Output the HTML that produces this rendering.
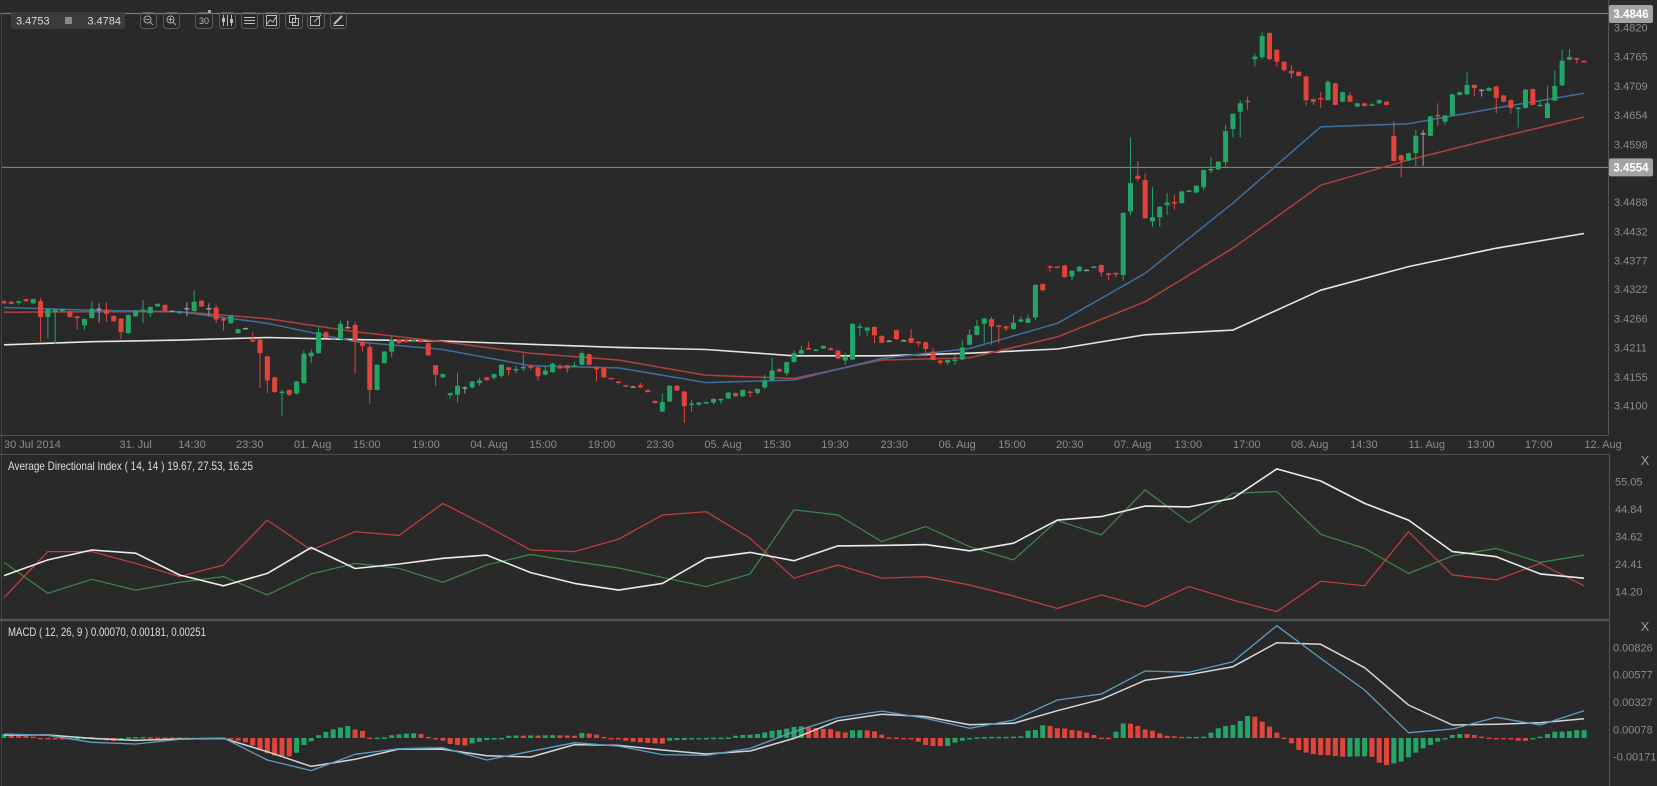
<!DOCTYPE html>
<html><head><meta charset="utf-8">
<style>
html,body{margin:0;padding:0;background:#292929;}
svg{display:block;font-family:"Liberation Sans Narrow","Liberation Sans",sans-serif;}
</style></head>
<body>
<svg id="chart" width="1657" height="786" viewBox="0 0 1657 786" xmlns="http://www.w3.org/2000/svg">
<rect x="0" y="0" width="1657" height="786" fill="#292929"/>
<defs>
<clipPath id="mainClip"><rect x="2" y="14" width="1606" height="421"/></clipPath>
<clipPath id="adxClip"><rect x="2" y="455" width="1606" height="164"/></clipPath>
<clipPath id="macdClip"><rect x="2" y="622" width="1606" height="164"/></clipPath>
</defs>
<g id="frame">
<line x1="0" y1="13.5" x2="1608" y2="13.5" stroke="#7a7a7a" stroke-width="1.2"/>
<line x1="1.5" y1="13" x2="1.5" y2="786" stroke="#444"/>
<line x1="1608.5" y1="0" x2="1608.5" y2="435" stroke="#555"/>
<line x1="0" y1="435.5" x2="1608" y2="435.5" stroke="#505050"/>
<line x1="0" y1="454.5" x2="1609" y2="454.5" stroke="#505050"/>
<line x1="1609.5" y1="454" x2="1609.5" y2="786" stroke="#555"/>
<line x1="0" y1="620" x2="1609" y2="620" stroke="#555" stroke-width="2.5"/>
</g>
<g id="main" clip-path="url(#mainClip)"></g>
<g id="mainAxis"></g>
<g id="xAxis"></g>
<g id="adx" clip-path="url(#adxClip)"></g>
<g id="adxAxis"></g>
<g id="macd" clip-path="url(#macdClip)"></g>
<g id="macdAxis"></g>
<g id="toolbar">
<rect x="11" y="12" width="114" height="17" rx="2" fill="#3b3b3b"/>
<text x="16" y="24.5" fill="#dcdcdc" font-size="11">3.4753</text>
<rect x="65" y="17" width="7" height="7" fill="#8a8a8a"/>
<text x="121" y="24.5" fill="#dcdcdc" font-size="11" text-anchor="end">3.4784</text>
<g><rect x="140.5" y="12.5" width="16" height="16" rx="3" fill="none" stroke="#5a5a5a"/><circle cx="147.5" cy="19.5" r="3.5" fill="none" stroke="#aaa"/><line x1="145.5" y1="19.5" x2="149.5" y2="19.5" stroke="#aaa"/><line x1="150" y1="22" x2="153" y2="25" stroke="#aaa"/></g>
<g><rect x="163.5" y="12.5" width="16" height="16" rx="3" fill="none" stroke="#5a5a5a"/><circle cx="170.5" cy="19.5" r="3.5" fill="none" stroke="#aaa"/><line x1="168.5" y1="19.5" x2="172.5" y2="19.5" stroke="#aaa"/><line x1="170.5" y1="17.5" x2="170.5" y2="21.5" stroke="#aaa"/><line x1="173" y1="22" x2="176" y2="25" stroke="#aaa"/></g>
<g><rect x="195.5" y="12.5" width="17" height="16" rx="3" fill="none" stroke="#5a5a5a"/><text x="204" y="24" fill="#bbb" font-size="9" text-anchor="middle">30</text><rect x="208" y="10" width="3" height="3" fill="#aaa"/></g>
<g><rect x="219.5" y="12.5" width="16" height="16" rx="3" fill="none" stroke="#5a5a5a"/><line x1="223.5" y1="15" x2="223.5" y2="26" stroke="#bbb"/><line x1="227.5" y1="15" x2="227.5" y2="26" stroke="#bbb"/><line x1="231.5" y1="15" x2="231.5" y2="26" stroke="#bbb"/><rect x="222" y="18" width="3" height="4" fill="#bbb"/><rect x="230" y="19" width="3" height="4" fill="#bbb"/></g>
<g><rect x="241.5" y="12.5" width="16" height="16" rx="3" fill="none" stroke="#5a5a5a"/><line x1="244" y1="17.5" x2="255" y2="17.5" stroke="#bbb"/><line x1="244" y1="20.5" x2="255" y2="20.5" stroke="#bbb"/><line x1="244" y1="23.5" x2="255" y2="23.5" stroke="#bbb"/></g>
<g><rect x="263.5" y="12.5" width="16" height="16" rx="3" fill="none" stroke="#5a5a5a"/><rect x="266.5" y="15.5" width="10" height="10" fill="none" stroke="#bbb"/><polyline points="267,24 270,20 273,22 276,17" fill="none" stroke="#bbb"/></g>
<g><rect x="285.5" y="12.5" width="17" height="16" rx="3" fill="none" stroke="#5a5a5a"/><rect x="289.5" y="15.5" width="6" height="7" fill="none" stroke="#bbb"/><rect x="292.5" y="18.5" width="6" height="7" fill="none" stroke="#bbb"/></g>
<g><rect x="307.5" y="12.5" width="17" height="16" rx="3" fill="none" stroke="#5a5a5a"/><rect x="310.5" y="16.5" width="9" height="9" fill="none" stroke="#bbb"/><line x1="314" y1="22" x2="321" y2="15" stroke="#bbb"/></g>
<g><rect x="330.5" y="12.5" width="16" height="16" rx="3" fill="none" stroke="#5a5a5a"/><line x1="333" y1="25.5" x2="344" y2="25.5" stroke="#bbb"/><line x1="334" y1="24" x2="342" y2="16" stroke="#bbb" stroke-width="2"/></g>
</g>
<text x="8" y="470" fill="#dedede" font-size="12" textLength="245" lengthAdjust="spacingAndGlyphs">Average Directional Index ( 14, 14 ) 19.67, 27.53, 16.25</text>
<text x="8" y="636" fill="#dedede" font-size="12" textLength="198" lengthAdjust="spacingAndGlyphs">MACD ( 12, 26, 9 ) 0.00070, 0.00181, 0.00251</text>
<text x="1645" y="465" fill="#999" font-size="13" text-anchor="middle">X</text>
<text x="1645" y="631" fill="#999" font-size="13" text-anchor="middle">X</text>
</svg>
<script>
const opens=[3.4299,3.4298,3.4298,3.4303,3.4295,3.4299,3.4269,3.4278,3.4280,3.4280,
3.4270,3.4253,3.4267,3.4285,3.4283,3.4271,3.4266,3.4238,3.4270,3.4282,
3.4276,3.4289,3.4292,3.4281,3.4276,3.4286,3.4280,3.4300,3.4286,3.4287,
3.4266,3.4257,3.4238,3.4248,3.4226,3.4226,3.4194,3.4154,3.4124,3.4130,
3.4123,3.4143,3.4194,3.4200,3.4240,3.4228,3.4228,3.4250,3.4254,3.4222,
3.4212,3.4130,3.4181,3.4203,3.4226,3.4226,3.4222,3.4226,3.4219,3.4177,
3.4154,3.4120,3.4121,3.4135,3.4135,3.4143,3.4154,3.4153,3.4157,3.4173,
3.4167,3.4171,3.4175,3.4173,3.4159,3.4164,3.4175,3.4177,3.4175,3.4178,
3.4198,3.4174,3.4172,3.4153,3.4146,3.4139,3.4137,3.4139,3.4130,3.4109,
3.4089,3.4108,3.4138,3.4127,3.4102,3.4102,3.4106,3.4106,3.4110,3.4114,
3.4124,3.4118,3.4127,3.4124,3.4135,3.4148,3.4170,3.4162,3.4183,3.4199,
3.4210,3.4205,3.4209,3.4209,3.4205,3.4186,3.4188,3.4250,3.4243,3.4250,
3.4233,3.4224,3.4244,3.4225,3.4229,3.4222,3.4221,3.4203,3.4186,3.4182,
3.4186,3.4188,3.4216,3.4235,3.4256,3.4265,3.4253,3.4251,3.4246,3.4260,
3.4258,3.4268,3.4332,3.4366,3.4365,3.4367,3.4346,3.4356,3.4359,3.4364,
3.4368,3.4352,3.4353,3.4349,3.4470,3.4538,3.4530,3.4451,3.4459,3.4482,
3.4488,3.4486,3.4508,3.4506,3.4516,3.4549,3.4550,3.4564,3.4627,3.4660,
3.4681,3.4760,3.4764,3.4810,3.4778,3.4755,3.4738,3.4736,3.4727,3.4684,
3.4686,3.4682,3.4714,3.4679,3.4691,3.4670,3.4676,3.4673,3.4676,3.4679,
3.4614,3.4577,3.4567,3.4581,3.4619,3.4614,3.4654,3.4641,3.4653,3.4692,
3.4693,3.4711,3.4702,3.4700,3.4708,3.4691,3.4682,3.4665,3.4667,3.4703,
3.4671,3.4648,3.4681,3.4710,3.4759,3.4762,3.4757];
const closes=[3.4295,3.4294,3.4299,3.4299,3.4303,3.4269,3.4284,3.4283,3.4284,3.4269,
3.4267,3.4265,3.4285,3.4285,3.4275,3.4261,3.4240,3.4273,3.4281,3.4283,
3.4288,3.4294,3.4281,3.4281,3.4280,3.4286,3.4298,3.4289,3.4286,3.4264,
3.4262,3.4272,3.4246,3.4248,3.4222,3.4200,3.4148,3.4126,3.4127,3.4121,
3.4146,3.4199,3.4201,3.4240,3.4229,3.4228,3.4256,3.4250,3.4222,3.4214,
3.4130,3.4178,3.4203,3.4226,3.4219,3.4221,3.4226,3.4221,3.4196,3.4159,
3.4160,3.4124,3.4138,3.4135,3.4146,3.4148,3.4149,3.4160,3.4178,3.4168,
3.4170,3.4174,3.4173,3.4156,3.4167,3.4180,3.4171,3.4171,3.4177,3.4200,
3.4178,3.4169,3.4154,3.4152,3.4143,3.4137,3.4137,3.4135,3.4126,3.4105,
3.4107,3.4138,3.4129,3.4099,3.4104,3.4106,3.4107,3.4113,3.4113,3.4125,
3.4118,3.4130,3.4124,3.4132,3.4148,3.4167,3.4165,3.4183,3.4200,3.4206,
3.4207,3.4207,3.4214,3.4206,3.4190,3.4194,3.4256,3.4251,3.4249,3.4234,
3.4220,3.4224,3.4227,3.4225,3.4220,3.4219,3.4208,3.4187,3.4182,3.4187,
3.4188,3.4211,3.4235,3.4252,3.4266,3.4251,3.4250,3.4247,3.4258,3.4264,
3.4266,3.4330,3.4320,3.4363,3.4364,3.4345,3.4357,3.4365,3.4359,3.4365,
3.4354,3.4350,3.4350,3.4467,3.4524,3.4532,3.4457,3.4459,3.4479,3.4487,
3.4485,3.4508,3.4510,3.4519,3.4549,3.4551,3.4565,3.4623,3.4656,3.4676,
3.4679,3.4765,3.4804,3.4760,3.4755,3.4739,3.4733,3.4728,3.4682,3.4679,
3.4684,3.4717,3.4673,3.4697,3.4679,3.4676,3.4671,3.4674,3.4682,3.4673,
3.4566,3.4567,3.4581,3.4614,3.4619,3.4651,3.4652,3.4653,3.4693,3.4697,
3.4711,3.4705,3.4702,3.4705,3.4686,3.4679,3.4667,3.4668,3.4702,3.4673,
3.4673,3.4676,3.4709,3.4757,3.4764,3.4760,3.4754];
const highs=[3.4302,3.4299,3.4300,3.4304,3.4304,3.4305,3.4285,3.4284,3.4285,3.4281,
3.4271,3.4266,3.4299,3.4295,3.4297,3.4272,3.4267,3.4274,3.4282,3.4301,
3.4289,3.4295,3.4293,3.4282,3.4281,3.4297,3.4320,3.4301,3.4295,3.4292,
3.4267,3.4273,3.4247,3.4249,3.4240,3.4227,3.4195,3.4155,3.4130,3.4131,
3.4147,3.4205,3.4207,3.4252,3.4241,3.4229,3.4262,3.4262,3.4260,3.4223,
3.4219,3.4179,3.4204,3.4232,3.4227,3.4227,3.4227,3.4227,3.4220,3.4178,
3.4161,3.4125,3.4163,3.4137,3.4147,3.4153,3.4155,3.4161,3.4179,3.4174,
3.4176,3.4199,3.4180,3.4174,3.4176,3.4182,3.4180,3.4178,3.4184,3.4204,
3.4199,3.4175,3.4173,3.4153,3.4147,3.4140,3.4138,3.4143,3.4131,3.4110,
3.4123,3.4139,3.4139,3.4128,3.4111,3.4107,3.4108,3.4114,3.4114,3.4126,
3.4125,3.4131,3.4128,3.4133,3.4159,3.4191,3.4171,3.4184,3.4205,3.4214,
3.4222,3.4208,3.4215,3.4212,3.4206,3.4201,3.4257,3.4257,3.4250,3.4251,
3.4234,3.4225,3.4245,3.4226,3.4246,3.4223,3.4222,3.4210,3.4187,3.4188,
3.4197,3.4224,3.4245,3.4263,3.4267,3.4269,3.4254,3.4252,3.4273,3.4270,
3.4273,3.4331,3.4333,3.4367,3.4366,3.4368,3.4358,3.4366,3.4360,3.4366,
3.4369,3.4353,3.4354,3.4468,3.4611,3.4565,3.4543,3.4516,3.4480,3.4505,
3.4501,3.4509,3.4511,3.4520,3.4550,3.4574,3.4566,3.4635,3.4657,3.4682,
3.4689,3.4771,3.4812,3.4811,3.4779,3.4756,3.4749,3.4737,3.4728,3.4685,
3.4697,3.4720,3.4715,3.4698,3.4697,3.4677,3.4677,3.4676,3.4683,3.4680,
3.4641,3.4578,3.4582,3.4625,3.4625,3.4652,3.4676,3.4654,3.4694,3.4698,
3.4736,3.4712,3.4703,3.4707,3.4709,3.4692,3.4683,3.4669,3.4703,3.4704,
3.4682,3.4709,3.4738,3.4778,3.4779,3.4763,3.4758];
const lows=[3.4294,3.4293,3.4292,3.4298,3.4294,3.4222,3.4229,3.4218,3.4279,3.4268,
3.4245,3.4245,3.4266,3.4259,3.4259,3.4260,3.4226,3.4237,3.4269,3.4257,
3.4269,3.4288,3.4280,3.4280,3.4275,3.4270,3.4279,3.4288,3.4270,3.4257,
3.4243,3.4256,3.4237,3.4247,3.4221,3.4134,3.4124,3.4125,3.4080,3.4118,
3.4122,3.4142,3.4181,3.4199,3.4228,3.4227,3.4227,3.4248,3.4162,3.4203,
3.4104,3.4129,3.4180,3.4193,3.4218,3.4220,3.4221,3.4220,3.4195,3.4138,
3.4153,3.4114,3.4106,3.4123,3.4132,3.4138,3.4146,3.4149,3.4153,3.4158,
3.4162,3.4166,3.4168,3.4148,3.4158,3.4163,3.4170,3.4163,3.4174,3.4177,
3.4177,3.4147,3.4153,3.4152,3.4142,3.4136,3.4136,3.4134,3.4125,3.4104,
3.4088,3.4107,3.4128,3.4067,3.4088,3.4100,3.4105,3.4102,3.4104,3.4113,
3.4117,3.4117,3.4116,3.4121,3.4132,3.4147,3.4164,3.4157,3.4182,3.4198,
3.4206,3.4204,3.4208,3.4205,3.4189,3.4178,3.4187,3.4232,3.4232,3.4219,
3.4219,3.4223,3.4225,3.4224,3.4219,3.4213,3.4194,3.4186,3.4178,3.4178,
3.4178,3.4187,3.4215,3.4234,3.4219,3.4216,3.4219,3.4242,3.4245,3.4259,
3.4257,3.4263,3.4317,3.4355,3.4363,3.4344,3.4338,3.4355,3.4358,3.4363,
3.4346,3.4339,3.4344,3.4338,3.4463,3.4527,3.4456,3.4441,3.4441,3.4463,
3.4473,3.4485,3.4507,3.4505,3.4510,3.4543,3.4549,3.4555,3.4611,3.4611,
3.4663,3.4746,3.4760,3.4759,3.4746,3.4736,3.4724,3.4727,3.4671,3.4673,
3.4667,3.4681,3.4672,3.4678,3.4678,3.4669,3.4670,3.4671,3.4675,3.4672,
3.4565,3.4535,3.4566,3.4557,3.4557,3.4613,3.4633,3.4635,3.4652,3.4691,
3.4692,3.4689,3.4689,3.4699,3.4657,3.4678,3.4656,3.4630,3.4666,3.4672,
3.4670,3.4647,3.4680,3.4709,3.4758,3.4752,3.4753];
const maIndex=[0,12,24,36,48,60,72,84,96,108,120,132,144,156,168,180,192,204,216];
const maBlue=[3.4287,3.4282,3.4279,3.4257,3.4222,3.4207,3.4176,3.4172,3.4144,3.4149,3.4190,3.4209,3.4257,3.4352,3.4486,3.4631,3.4637,3.4667,3.4695];
const maRed=[3.4278,3.4279,3.4279,3.4266,3.4241,3.4222,3.4200,3.4187,3.4158,3.4152,3.4187,3.4191,3.4231,3.4298,3.4400,3.4520,3.4568,3.4610,3.4650];
const maWhite=[3.4216,3.4222,3.4225,3.4230,3.4226,3.4223,3.4217,3.4211,3.4207,3.4195,3.4195,3.4200,3.4208,3.4235,3.4244,3.4320,3.4365,3.4400,3.4428];
const indIndex=[0,6,12,18,24,30,36,42,48,54,60,66,72,78,84,90,96,102,108,114,120,126,132,138,144,150,156,162,168,174,180,186,192,198,204,210,216];
const adxMinusDI=[12.0,29.1,29.1,24.7,19.8,24.1,40.8,29.7,36.5,35.1,47.0,38.6,29.7,29.1,33.7,42.7,43.9,34.0,19.2,24.1,19.2,19.8,16.7,12.6,8.0,13.0,8.6,16.1,11.1,6.8,18.1,16.4,36.5,20.4,18.6,24.7,16.4];
const adxPlusDI=[25.1,13.6,18.8,14.8,17.7,19.8,13.0,20.8,24.7,22.9,17.7,24.2,28.0,25.4,23.0,19.5,16.1,20.8,44.6,42.7,32.8,38.4,30.9,26.0,40.6,35.3,52.0,39.8,50.7,51.4,35.5,30.3,21.0,27.5,30.3,25.1,27.8];
const adxLine=[20.2,26.0,29.7,28.5,20.4,16.4,21.0,30.6,22.8,24.5,26.6,27.8,21.3,17.3,14.8,17.3,26.6,28.8,25.7,31.2,31.4,31.7,29.4,32.2,40.8,42.1,46.0,45.7,48.9,59.8,55.3,47.0,40.8,29.1,27.2,20.8,19.2];
const macdLine=[0.00036,0.00024,-0.00040,-0.00055,-0.00013,-0.00001,-0.00201,-0.00298,-0.00149,-0.00098,-0.00089,-0.00201,-0.00122,-0.00043,-0.00074,-0.00152,-0.00158,-0.00095,0.00057,0.00185,0.00245,0.00178,0.00088,0.00163,0.00346,0.00400,0.00610,0.00598,0.00695,0.01023,0.00725,0.00437,0.00048,0.00081,0.00188,0.00118,0.00248];
const macdSignal=[0.00027,0.00027,-0.00004,-0.00022,-0.00010,-0.00004,-0.00125,-0.00259,-0.00195,-0.00101,-0.00104,-0.00162,-0.00174,-0.00061,-0.00068,-0.00110,-0.00146,-0.00119,-0.00004,0.00157,0.00215,0.00194,0.00121,0.00133,0.00248,0.00352,0.00525,0.00577,0.00649,0.00868,0.00853,0.00640,0.00300,0.00118,0.00124,0.00139,0.00175];
const macdHist=[0.00036,0.00030,0.00025,0.00020,0.00012,-0.00005,-0.00010,-0.00012,-0.00015,-0.00014,
-0.00008,0.00005,0.00008,-0.00015,-0.00022,-0.00028,-0.00025,0.00005,0.00008,0.00008,
0.00006,0.00005,0.00004,0.00003,0.00004,0.00003,0.00002,0.00003,-0.00003,-0.00005,
-0.00008,-0.00015,-0.00025,-0.00040,-0.00070,-0.00100,-0.00140,-0.00160,-0.00165,-0.00168,
-0.00135,-0.00065,-0.00030,0.00025,0.00055,0.00078,0.00095,0.00108,0.00078,0.00065,
0.00003,0.00003,0.00005,0.00025,0.00032,0.00040,0.00042,0.00035,0.00010,-0.00010,
-0.00025,-0.00055,-0.00065,-0.00068,-0.00050,-0.00035,-0.00020,-0.00015,-0.00003,0.00020,
0.00022,0.00021,0.00023,0.00022,0.00024,0.00025,0.00024,0.00022,0.00020,0.00045,
0.00040,0.00030,0.00010,-0.00003,-0.00012,-0.00025,-0.00035,-0.00040,-0.00045,-0.00050,
-0.00052,-0.00025,-0.00020,-0.00018,-0.00013,-0.00012,-0.00005,0.00002,0.00003,0.00004,
0.00020,0.00027,0.00030,0.00036,0.00050,0.00065,0.00072,0.00085,0.00100,0.00105,
0.00098,0.00090,0.00082,0.00080,0.00060,0.00050,0.00070,0.00071,0.00068,0.00060,
0.00030,0.00005,0.00003,-0.00010,-0.00013,-0.00034,-0.00064,-0.00074,-0.00075,-0.00072,
-0.00043,-0.00025,-0.00005,0.00005,0.00008,0.00010,0.00010,0.00010,0.00012,0.00015,
0.00066,0.00072,0.00115,0.00110,0.00088,0.00086,0.00072,0.00066,0.00048,0.00027,
0.00003,0.00002,0.00057,0.00133,0.00130,0.00109,0.00078,0.00066,0.00042,0.00020,
0.00015,0.00010,0.00010,0.00010,0.00012,0.00048,0.00088,0.00109,0.00118,0.00155,
0.00200,0.00194,0.00148,0.00103,0.00048,0.00003,-0.00049,-0.00110,-0.00134,-0.00147,
-0.00156,-0.00157,-0.00165,-0.00171,-0.00170,-0.00169,-0.00168,-0.00172,-0.00226,-0.00247,
-0.00232,-0.00216,-0.00177,-0.00134,-0.00095,-0.00064,-0.00034,-0.00005,0.00027,0.00036,
0.00035,0.00027,0.00012,0.00003,-0.00004,-0.00013,-0.00014,-0.00025,-0.00026,-0.00013,
0.00012,0.00036,0.00057,0.00058,0.00062,0.00070,0.00070];
const priceTicks=["3.4820","3.4765","3.4709","3.4654","3.4598","3.4488","3.4432","3.4377","3.4322","3.4266","3.4211","3.4155","3.4100"];
const adxTicks=["55.05","44.84","34.62","24.41","14.20"];
const macdTicks=["0.00826","0.00577","0.00327","0.00078","-0.00171"];
const timeTickIdx=[18.0,25.7,33.6,42.2,49.6,57.7,66.3,73.7,81.7,89.7,98.3,105.7,113.6,121.7,130.3,137.8,145.7,154.3,161.9,169.9,178.5,185.9,194.5,201.9,209.8,218.6];
const timeTickLabels=["31. Jul","14:30","23:30","01. Aug","15:00","19:00","04. Aug","15:00","19:00","23:30","05. Aug","15:30","19:30","23:30","06. Aug","15:00","20:30","07. Aug","13:00","17:00","08. Aug","14:30","11. Aug","13:00","17:00","12. Aug"];
const priceLines=[3.4846,3.4554];

const NS="http://www.w3.org/2000/svg";
const xOf=i=>4+i*7.315;
const pY=p=>27.7+(3.4820-p)*5250;
const aY=v=>481.7+(55.05-v)*2.693;
const mY=v=>647.3+(0.00826-v)*10973;
function mk(tag,attrs,parent){const e=document.createElementNS(NS,tag);for(const k in attrs)e.setAttribute(k,attrs[k]);parent.appendChild(e);return e;}
const main=document.getElementById('main'),mainAxis=document.getElementById('mainAxis'),xAxis=document.getElementById('xAxis');
const adx=document.getElementById('adx'),adxAxis=document.getElementById('adxAxis'),macd=document.getElementById('macd'),macdAxis=document.getElementById('macdAxis');

const pl=mk('line',{x1:0,x2:1608,y1:pY(priceLines[1]),y2:pY(priceLines[1]),stroke:'#8a8a8a','stroke-width':1},main);



function polyline(parent,idx,vals,yf,color,w,name){
  const pts=idx.map((ix,k)=>xOf(ix).toFixed(1)+','+yf(vals[k]).toFixed(1)).join(' ');
  const e=mk('polyline',{points:pts,fill:'none',stroke:color,'stroke-width':w,'stroke-linejoin':'round'},parent);
  
  
}
polyline(main,maIndex,maWhite,pY,'#e6e6e6',1.6,'ma-white');
polyline(main,maIndex,maRed,pY,'#b0403a',1.5,'ma-red');
polyline(main,maIndex,maBlue,pY,'#3f6f9f',1.5,'ma-blue');

for(let i=0;i<closes.length;i++){
  const o=opens[i],c=closes[i],h=highs[i],l=lows[i];
  const col=c>o?'#23a566':(c<o?'#e2443b':'#9a9a9a');
  const x=xOf(i);
  const g=mk('g',{},main);
  
  
  mk('line',{x1:x,x2:x,y1:pY(h),y2:pY(l),stroke:col,'stroke-width':1},g);
  const top=pY(Math.max(o,c)),bot=pY(Math.min(o,c));
  mk('rect',{x:x-2.5,y:top,width:5,height:Math.max(1.5,bot-top),fill:col},g);
}

priceTicks.forEach(t=>{
  const e=mk('text',{x:1614,y:pY(parseFloat(t))+4,fill:'#8c8c8c','font-size':11},mainAxis);
  e.textContent=t;
  
  
});
priceLines.forEach(p=>{
  const y=pY(p);
  const b=mk('rect',{x:1609,y:y-9,width:44,height:18,rx:2,fill:'#a3a3a3'},mainAxis);
  
  
  const t=mk('text',{x:1631,y:y+4,fill:'#fff','font-size':11.5,'font-weight':'bold','text-anchor':'middle'},mainAxis);
  t.textContent=p.toFixed(4);
  
  
});

const first=mk('text',{x:4,y:448,fill:'#8c8c8c','font-size':11},xAxis);
first.textContent='30 Jul 2014';


timeTickIdx.forEach((ix,k)=>{
  const e=mk('text',{x:xOf(ix),y:448,fill:'#8c8c8c','font-size':11,'text-anchor':'middle'},xAxis);
  e.textContent=timeTickLabels[k];
  
  
});

polyline(adx,indIndex,adxPlusDI,aY,'#3c8a48',1.2,'adx-plus-di');
polyline(adx,indIndex,adxMinusDI,aY,'#c8403a',1.2,'adx-minus-di');
polyline(adx,indIndex,adxLine,aY,'#ececec',1.6,'adx-line');
adxTicks.forEach(t=>{
  const e=mk('text',{x:1615,y:aY(parseFloat(t))+4,fill:'#8c8c8c','font-size':11},adxAxis);
  e.textContent=t;
  
  
});

const zero=mY(0);
for(let i=0;i<macdHist.length;i++){
  const v=macdHist[i],prev=i>0?macdHist[i-1]:v;
  const col=v>=prev?'#23a566':'#e2443b';
  const y=mY(v);
  const r=mk('rect',{x:xOf(i)-2.5,y:Math.min(y,zero),width:5,height:Math.max(1.5,Math.abs(y-zero)),fill:col},macd);
  
  
}
polyline(macd,indIndex,macdSignal,mY,'#d6d6d6',1.5,'macd-signal-line');
polyline(macd,indIndex,macdLine,mY,'#5b9fc2',1.3,'macd-line');
macdTicks.forEach(t=>{
  const e=mk('text',{x:1613,y:mY(parseFloat(t))+4,fill:'#8c8c8c','font-size':11},macdAxis);
  e.textContent=t;
  
  
});
</script>
</body></html>
